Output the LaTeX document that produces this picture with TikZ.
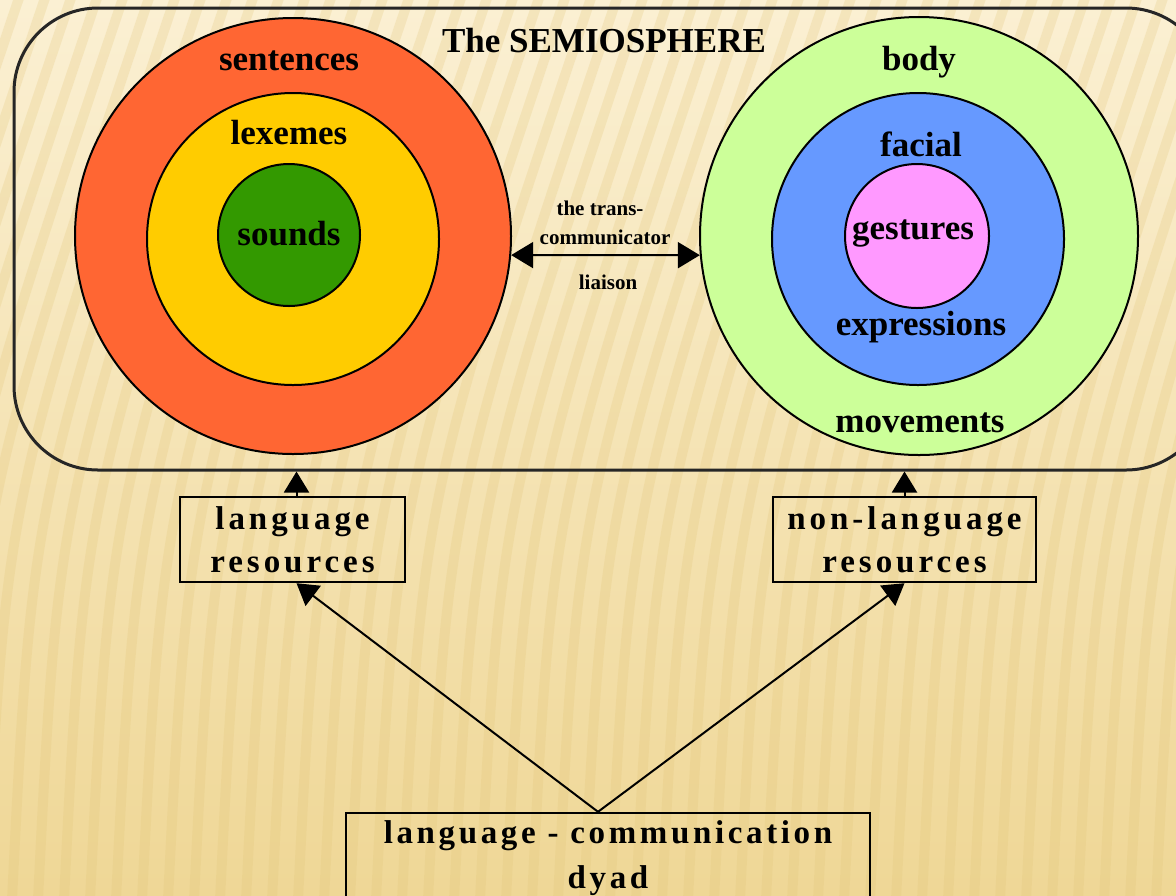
\documentclass[tikz,border=0pt]{standalone}
\usepackage{fontspec}
\setmainfont{Liberation Serif}
\usetikzlibrary{arrows.meta}
\definecolor{cRed}{HTML}{FF6633}
\definecolor{cYel}{HTML}{FFCC00}
\definecolor{cGrn}{HTML}{339900}
\definecolor{cLgr}{HTML}{CCFF99}
\definecolor{cBlu}{HTML}{6699FF}
\definecolor{cPnk}{HTML}{FF99FF}
\definecolor{bgTop}{HTML}{FBF0D3}
\definecolor{bgBot}{HTML}{EFD796}
\definecolor{stripe}{HTML}{E3C67A}
\newcommand{\bigfont}{\bfseries\fontsize{17.5pt}{20pt}\selectfont}
\newcommand{\smallfont}{\bfseries\fontsize{10.5pt}{12pt}\selectfont}
\newcommand{\boxfont}{\bfseries\fontsize{16.5pt}{21.5pt}\selectfont\addfontfeatures{LetterSpace=12}}
\newcommand{\dyadfont}{\bfseries\fontsize{16.5pt}{22.5pt}\selectfont\addfontfeatures{LetterSpace=11}}
\begin{document}
\begin{tikzpicture}[x=0.5pt,y=-0.5pt,
  ring/.style={circle,draw=black,line width=1pt,inner sep=0pt},
  lbl/.style={font=\bigfont,inner sep=0pt},
  slbl/.style={font=\smallfont,inner sep=0pt},
  resbox/.style={draw=black,line width=1.2pt,inner sep=0pt,align=center,font=\boxfont},
  conn/.style={line width=1pt,-{Triangle[length=10.5pt,width=12.5pt]}},
  conn2/.style={line width=1pt,{Triangle[length=11pt,width=13pt]}-{Triangle[length=11pt,width=13pt]}}]
\useasboundingbox (0,0) rectangle (1176,895);
\begin{scope}
\clip (0,0) rectangle (1176,895);
\shade[top color=bgTop,bottom color=bgBot] (0,0) rectangle (1176,895);
\foreach \x in {-300,-274,...,1300}{
  \draw[stripe,line width=5pt,opacity=0.25] (\x,900) .. controls (\x+20,500) .. (\x+190,-5);
}
\end{scope}
% semiosphere
\node[draw=black!85,line width=1.5pt,rounded corners=42pt,minimum width=598pt,minimum height=231pt,inner sep=0pt] (sem) at (612,239) {};
\node[lbl] (title) at (604,41) {The SEMIOSPHERE};
% left circles
\node[ring,fill=cRed,minimum size=218pt] (L3) at (293,236) {};
\node[ring,fill=cYel,minimum size=146pt] (L2) at (293,239) {};
\node[ring,fill=cGrn,minimum size=71pt] (L1) at (289,235) {};
\node[lbl] (sent) at (289,61) {sentences};
\node[lbl] (lex) at (289,133) {lexemes};
\node[lbl] (snd) at (289,234) {sounds};
% right circles
\node[ring,fill=cLgr,minimum size=219pt] (R3) at (919,236) {};
\node[ring,fill=cBlu,minimum size=146pt] (R2) at (918,239) {};
\node[ring,fill=cPnk,minimum size=72pt] (R1) at (917,236) {};
\node[lbl] (body) at (919,62) {body};
\node[lbl] (fac) at (921,144) {facial};
\node[lbl] (ges) at (913,234) {gestures};
\node[lbl] (expr) at (921,327) {expressions};
\node[lbl] (mov) at (920,423) {movements};
% liaison
\draw[conn2] (L3.-5.8) -- (R3.185.8);
\node[slbl] (t1) at (600,208) {the trans-};
\node[slbl] (t2) at (605,237) {communicator};
\node[slbl] (t3) at (608,282) {liaison};
% boxes
\node[resbox,minimum width=112.5pt,minimum height=42.5pt] (lr) at (292.5,539.5) {language\\resources};
\node[resbox,minimum width=131.5pt,minimum height=42.5pt] (nlr) at (904.5,539.5) {non-language\\resources};
\node[resbox,font=\dyadfont,minimum width=262pt,minimum height=45pt] (dyad) at (608,858) {language - communication\\dyad};
\coordinate (apex) at ([xshift=-5pt]dyad.north);
\draw[conn] ([xshift=2pt]lr.north) -- ([xshift=2pt]lr.north |- sem.south);
\draw[conn] (nlr.north) -- (nlr.north |- sem.south);
\draw[conn] (apex) -- ([xshift=2pt]lr.south);
\draw[conn] (apex) -- (nlr.south);
\end{tikzpicture}
\end{document}
